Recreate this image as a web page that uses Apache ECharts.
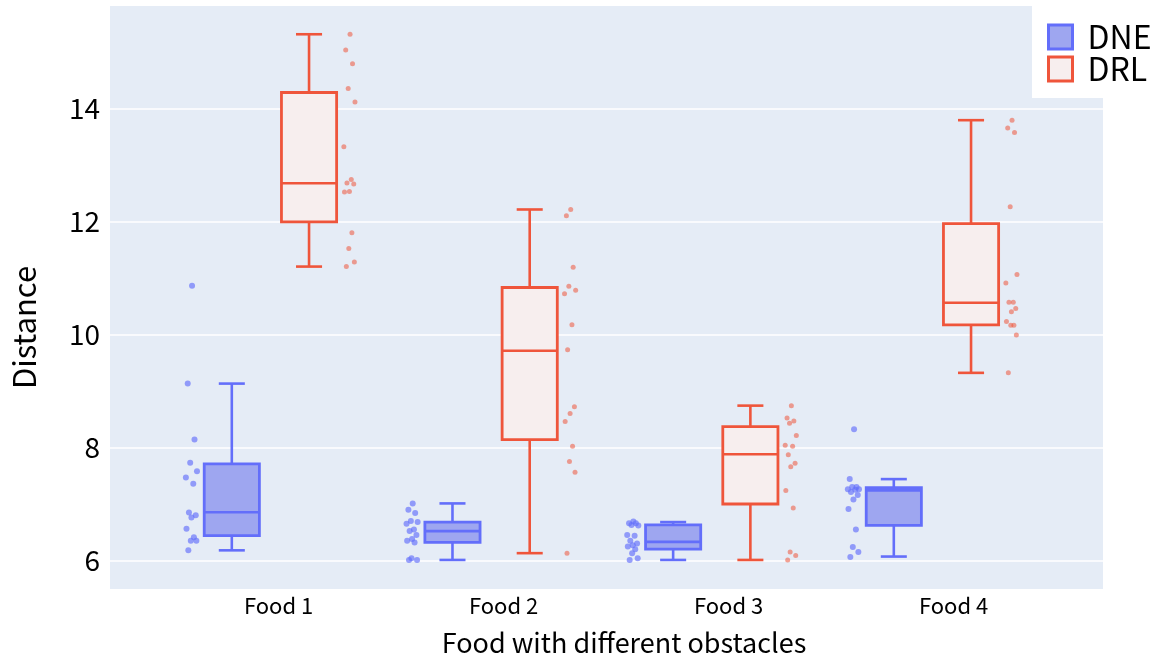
<!DOCTYPE html>
<html>
<head>
<meta charset="utf-8">
<script src="https://cdn.jsdelivr.net/npm/echarts@6/dist/echarts.min.js"></script>
<style>
html,body{margin:0;padding:0;background:#fff;}
#chart{width:1158px;height:666px;}
</style>
</head>
<body>
<div id="chart"></div>
<script>
// ---- data ----
const categories = ['Food 1', 'Food 2', 'Food 3', 'Food 4'];
const seriesNames = ['DNE', 'DRL'];
const yTicks = [6, 8, 10, 12, 14];

// box stats per category: [lower whisker, q1, median, q3, upper whisker]
const dneBox = [
  [6.18, 6.44, 6.855, 7.71, 9.13],
  [6.01, 6.32, 6.52, 6.68, 7.01],
  [6.01, 6.20, 6.33, 6.63, 6.68],
  [6.07, 6.62, 7.24, 7.29, 7.44]
];
const drlBox = [
  [11.20, 11.99, 12.675, 14.28, 15.31],
  [6.13, 8.14, 9.71, 10.83, 12.21],
  [6.01, 7.00, 7.88, 8.37, 8.74],
  [9.32, 10.17, 10.56, 11.96, 13.79]
];

// observed points per category
const dnePoints = [
  [10.86, 9.13, 8.14, 7.73, 7.58, 7.47, 7.36, 6.85, 6.80, 6.76, 6.56, 6.41, 6.35, 6.35, 6.18],
  [7.01, 6.90, 6.84, 6.70, 6.68, 6.65, 6.55, 6.52, 6.45, 6.38, 6.35, 6.32, 6.04, 6.01, 6.01],
  [6.69, 6.66, 6.66, 6.63, 6.62, 6.45, 6.44, 6.35, 6.30, 6.27, 6.25, 6.20, 6.13, 6.04, 6.01],
  [8.32, 7.44, 7.30, 7.30, 7.26, 7.26, 7.25, 7.21, 7.16, 7.08, 6.91, 6.55, 6.24, 6.15, 6.06]
];
const drlPoints = [
  [15.31, 15.03, 14.79, 14.35, 14.11, 13.32, 12.74, 12.68, 12.66, 12.53, 12.52, 11.80, 11.52, 11.28, 11.20],
  [12.21, 12.10, 11.19, 10.85, 10.78, 10.72, 10.17, 9.73, 8.72, 8.60, 8.46, 8.02, 7.75, 7.56, 6.13],
  [8.74, 8.52, 8.47, 8.43, 8.21, 8.04, 8.02, 7.87, 7.72, 7.66, 7.24, 6.93, 6.15, 6.09, 6.01],
  [13.79, 13.65, 13.57, 12.26, 11.06, 10.91, 10.57, 10.57, 10.46, 10.40, 10.23, 10.16, 10.16, 9.99, 9.32]
];

// ---- layout / style constants ----
const BOX_OFFSET = 0.175;   // box centre offset from category centre (category units)
const BOX_HALF = 0.125;     // half box width
const CAP_HALF = 0.059;     // half whisker-cap width
const PT_OFFSET = 0.358;    // point cloud offset
const JIT_AMP = 0.028;
const JITTER = [0.1, -0.6, 0.5, -0.2, 0.9, -0.9, 0.3, -0.4, 0.7, 0.0, -0.8, 0.4, -0.1, 0.8, -0.5];
const FONT = '"Noto Sans CJK SC", "Noto Sans", sans-serif';

const DNE_LINE = '#636efa', DNE_FILL = '#9ea6f0';
const DRL_LINE = '#ef553b', DRL_FILL = '#f7eeee';

function boxData(stats) {
  return stats.map((s, i) => [i].concat(s));
}
function pointData(groups, sign) {
  const out = [];
  groups.forEach((vals, i) => {
    vals.forEach((v, k) => {
      out.push([i + sign * PT_OFFSET + JITTER[k % JITTER.length] * JIT_AMP, v]);
    });
  });
  return out;
}

function makeBoxRender(sign, stroke, fill) {
  return function (params, api) {
    const i = api.value(0);
    const lo = api.value(1), q1 = api.value(2), med = api.value(3), q3 = api.value(4), hi = api.value(5);
    const c = i + sign * BOX_OFFSET;
    const xl = api.coord([c - BOX_HALF, q1])[0];
    const xr = api.coord([c + BOX_HALF, q1])[0];
    const xc = api.coord([c, q1])[0];
    const cl = api.coord([c - CAP_HALF, q1])[0];
    const cr = api.coord([c + CAP_HALF, q1])[0];
    const yq1 = api.coord([c, q1])[1];
    const yq3 = api.coord([c, q3])[1];
    const ym = api.coord([c, med])[1];
    const ylo = api.coord([c, lo])[1];
    const yhi = api.coord([c, hi])[1];
    const ls = { stroke: stroke, lineWidth: 2.6, fill: null };
    return {
      type: 'group',
      children: [
        { type: 'line', shape: { x1: xc, y1: yq3, x2: xc, y2: yhi }, style: ls },
        { type: 'line', shape: { x1: xc, y1: yq1, x2: xc, y2: ylo }, style: ls },
        { type: 'line', shape: { x1: cl, y1: yhi, x2: cr, y2: yhi }, style: ls },
        { type: 'line', shape: { x1: cl, y1: ylo, x2: cr, y2: ylo }, style: ls },
        { type: 'rect', shape: { x: xl, y: yq3, width: xr - xl, height: yq1 - yq3 },
          style: { fill: fill, stroke: stroke, lineWidth: 2.8 } },
        { type: 'line', shape: { x1: xl, y1: ym, x2: xr, y2: ym }, style: ls }
      ]
    };
  };
}

const chart = echarts.init(document.getElementById('chart'), null, { renderer: 'canvas' });

const option = {
  backgroundColor: '#ffffff',
  animation: false,
  textStyle: { fontFamily: FONT },
  grid: {
    left: 110, right: 55, top: 6, bottom: 77,
    show: true, backgroundColor: '#e5ecf6', borderWidth: 0, containLabel: false
  },
  legend: {
    orient: 'vertical',
    left: 1032, top: 0,
    backgroundColor: '#ffffff',
    padding: [21, 10, 13, 15],
    itemGap: 0,
    itemWidth: 24, itemHeight: 24,
    textStyle: { fontSize: 32, color: '#000', fontFamily: FONT, lineHeight: 32, padding: [0, 0, 0, 10] },
    data: [
      { name: seriesNames[0], icon: 'rect', itemStyle: { color: DNE_FILL, borderColor: DNE_LINE, borderWidth: 3 } },
      { name: seriesNames[1], icon: 'rect', itemStyle: { color: DRL_FILL, borderColor: DRL_LINE, borderWidth: 3 } }
    ]
  },
  xAxis: [
    {
      type: 'value', min: -0.727, max: 3.773,
      axisLine: { show: false }, axisTick: { show: false },
      axisLabel: { show: false }, splitLine: { show: false }
    },
    {
      type: 'value', min: -0.749, max: 3.664, position: 'bottom',
      axisLine: { show: false },
      axisTick: { show: false, customValues: [0, 1, 2, 3] },
      splitLine: { show: false },
      axisLabel: {
        customValues: [0, 1, 2, 3],
        formatter: v => categories[Math.round(v)],
        fontSize: 22, color: '#000', fontFamily: FONT, margin: 6
      },
      name: 'Food with different obstacles',
      nameLocation: 'middle', nameGap: 40,
      nameTextStyle: { fontSize: 27, color: '#000', fontFamily: FONT, padding: [0, 0, 0, 35] }
    }
  ],
  yAxis: {
    type: 'value', min: 5.496, max: 15.81,
    axisLine: { show: false },
    axisTick: { show: false, customValues: yTicks },
    axisLabel: {
      customValues: yTicks,
      fontSize: 28, color: '#000', fontFamily: FONT, margin: 10,
      padding: [0, 0, 16, 0]
    },
    splitLine: { show: true, lineStyle: { color: '#ffffff', width: 1.5 } },
    name: 'Distance',
    nameLocation: 'middle', nameGap: 70,
    nameTextStyle: { fontSize: 31, color: '#000', fontFamily: FONT, padding: [0, 60, 0, 0] }
  },
  series: [
    {
      name: seriesNames[0], type: 'custom', xAxisIndex: 0,
      renderItem: makeBoxRender(-1, DNE_LINE, DNE_FILL),
      encode: { x: 0, y: [1, 2, 3, 4, 5] },
      itemStyle: { color: DNE_FILL, borderColor: DNE_LINE },
      data: boxData(dneBox), z: 3
    },
    {
      name: seriesNames[1], type: 'custom', xAxisIndex: 0,
      renderItem: makeBoxRender(1, DRL_LINE, DRL_FILL),
      encode: { x: 0, y: [1, 2, 3, 4, 5] },
      itemStyle: { color: DRL_FILL, borderColor: DRL_LINE },
      data: boxData(drlBox), z: 3
    },
    {
      name: seriesNames[0], type: 'scatter', xAxisIndex: 0,
      symbol: 'circle', symbolSize: 6,
      itemStyle: { color: DNE_LINE, opacity: 0.65 },
      data: pointData(dnePoints, -1), z: 4
    },
    {
      name: seriesNames[1], type: 'scatter', xAxisIndex: 0,
      symbol: 'circle', symbolSize: 5,
      itemStyle: { color: DRL_LINE, opacity: 0.55 },
      data: pointData(drlPoints, 1), z: 4
    }
  ]
};
chart.setOption(option);
</script>
</body>
</html>
